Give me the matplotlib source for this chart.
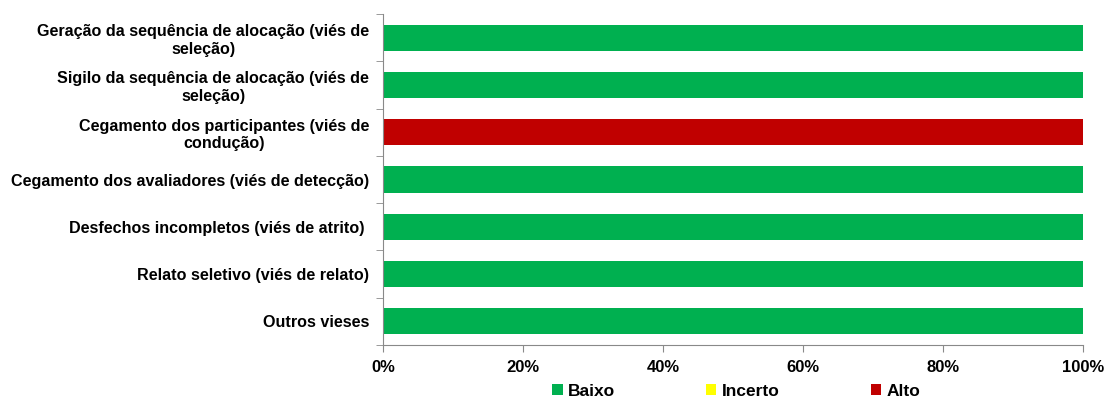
import numpy as np
import matplotlib.pyplot as plt
from matplotlib.ticker import FixedLocator, PercentFormatter
from matplotlib.patches import Patch

plt.rcParams['font.family'] = ['Liberation Sans', 'DejaVu Sans']
plt.rcParams['font.weight'] = 'bold'

# categories, top to bottom
categorias = ['Geração da sequência de alocação (viés de\nseleção)',
              'Sigilo da sequência de alocação (viés de\nseleção)',
              'Cegamento dos participantes (viés de\ncondução)',
              'Cegamento dos avaliadores (viés de detecção)',
              'Desfechos incompletos (viés de atrito) ',
              'Relato seletivo (viés de relato)',
              'Outros vieses']
baixo = [100, 100, 0, 100, 100, 100, 100]
incerto = [0, 0, 0, 0, 0, 0, 0]
alto = [0, 0, 100, 0, 0, 0, 0]
series = ['Baixo', 'Incerto', 'Alto']
cores = ['#00B050', '#FFFF00', '#C00000']
xticks = [0, 20, 40, 60, 80, 100]

fig = plt.figure(figsize=(11.05, 4), dpi=100)
ax = fig.add_axes([383/1105, 1-345/400, 700/1105, 331/400])

y = np.arange(len(categorias))
left = np.zeros(len(categorias))
for vals, cor in zip([baixo, incerto, alto], cores):
    ax.barh(y, vals, left=left, height=0.55, color=cor, edgecolor='none')
    left += np.array(vals)

ax.set_ylim(len(categorias)-0.5, -0.5)
ax.set_xlim(0, 100)
ax.set_yticks(y)
ax.set_yticklabels(categorias, fontsize=11.6, fontweight='bold',
                   multialignment='center', linespacing=1.2)
ax.tick_params(axis='y', which='major', length=0, pad=10)
ax.yaxis.set_minor_locator(FixedLocator(np.arange(len(categorias)+1)-0.5))
ax.tick_params(axis='y', which='minor', length=5, color='#898989', direction='out')
ax.set_xticks(xticks)
ax.xaxis.set_major_formatter(PercentFormatter(decimals=0))
ax.tick_params(axis='x', length=5, color='#898989', labelsize=12, pad=6)
for lab in ax.get_xticklabels():
    lab.set_fontweight('bold')

for s in ['top', 'right']:
    ax.spines[s].set_visible(False)
for s in ['left', 'bottom']:
    ax.spines[s].set_color('#898989')

handles = [Patch(facecolor=c, edgecolor='none') for c in cores]
fig.legend(handles, series, loc='center', bbox_to_anchor=(736/1105, 1-391/400),
           ncol=3, frameon=False, handlelength=0.6, handleheight=0.6,
           handletextpad=0.3, columnspacing=5.25, prop={'weight': 'bold', 'size': 12.5})

fig.savefig('out.png', dpi=100)
